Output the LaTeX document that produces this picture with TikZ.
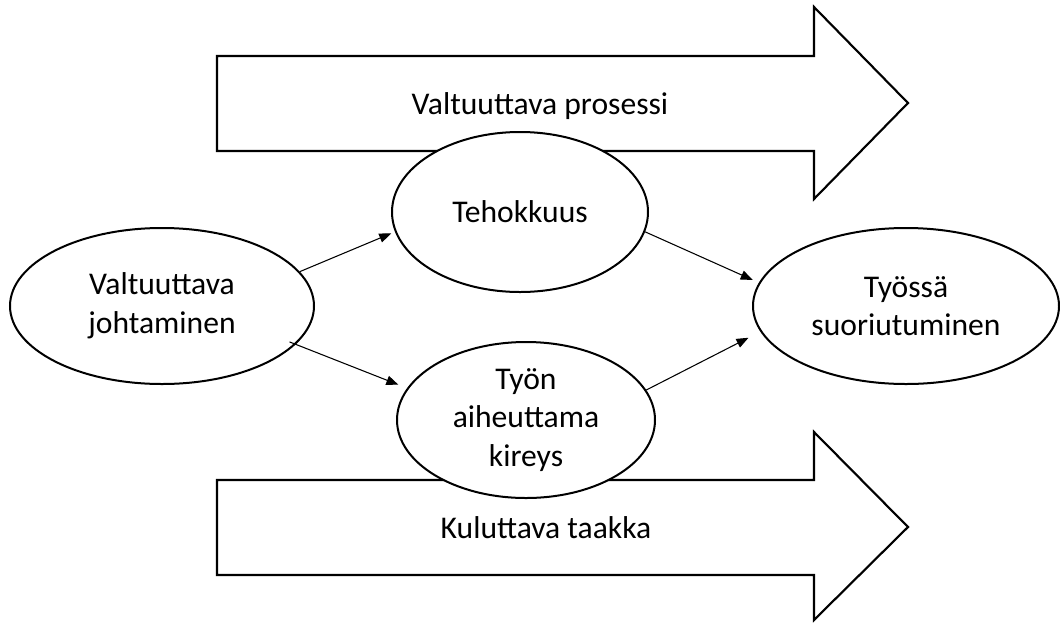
\documentclass[tikz,border=0pt]{standalone}
\usepackage{fontspec}
\setmainfont{Carlito}
\usetikzlibrary{arrows.meta,shapes.geometric}
\tikzset{
  blockarrow/.style={draw=black,fill=white,line width=1.6pt,line join=miter},
  oval/.style={ellipse,draw=black,fill=white,line width=1.5pt,inner sep=0pt,align=center,
    font=\fontsize{23.7}{29}\selectfont},
  label/.style={inner sep=0pt,font=\fontsize{23.7}{29}\selectfont},
  conn/.style={draw=black,line width=0.8pt,-{Triangle[length=9pt,width=7pt]}}
}
\begin{document}
\begin{tikzpicture}[x=0.75pt,y=-0.75pt]
\useasboundingbox (0,0) rectangle (1060,622);
% block arrows
\draw[blockarrow] (217,56) -- (814,56) -- (814,7) -- (908,103) -- (814,199) -- (814,151) -- (217,151) -- cycle;
\draw[blockarrow] (217,480) -- (814,480) -- (814,432) -- (908,527) -- (814,620) -- (814,575) -- (217,575) -- cycle;
\node[label] (vp) at (540,106) {Valtuuttava prosessi};
\node[label] (kt) at (546,528) {Kuluttava taakka};
% ellipses
\node[oval,minimum width=228pt,minimum height=117pt] (vj) at (162,306) {Valtuuttava\\johtaminen};
\node[oval,minimum width=192pt,minimum height=120pt] (teh) at (520,212) {Tehokkuus};
\node[oval,minimum width=193.5pt,minimum height=117pt] (kir) at (526,420) {Työn\\aiheuttama\\kireys};
\node[oval,minimum width=229.5pt,minimum height=117pt] (tsu) at (906,306) {Työssä\\suoriutuminen};
% connectors
\draw[conn,shorten >=3pt] (vj.14) -- (teh.189);
\draw[conn,shorten <=-5pt,shorten >=7pt] (vj.-16) -- (kir.165.3);
\draw[conn,shorten >=5pt] (teh.-9) -- (tsu.171);
\draw[conn,shorten >=10pt] (kir.14) -- (tsu.190.4);
\end{tikzpicture}
\end{document}
